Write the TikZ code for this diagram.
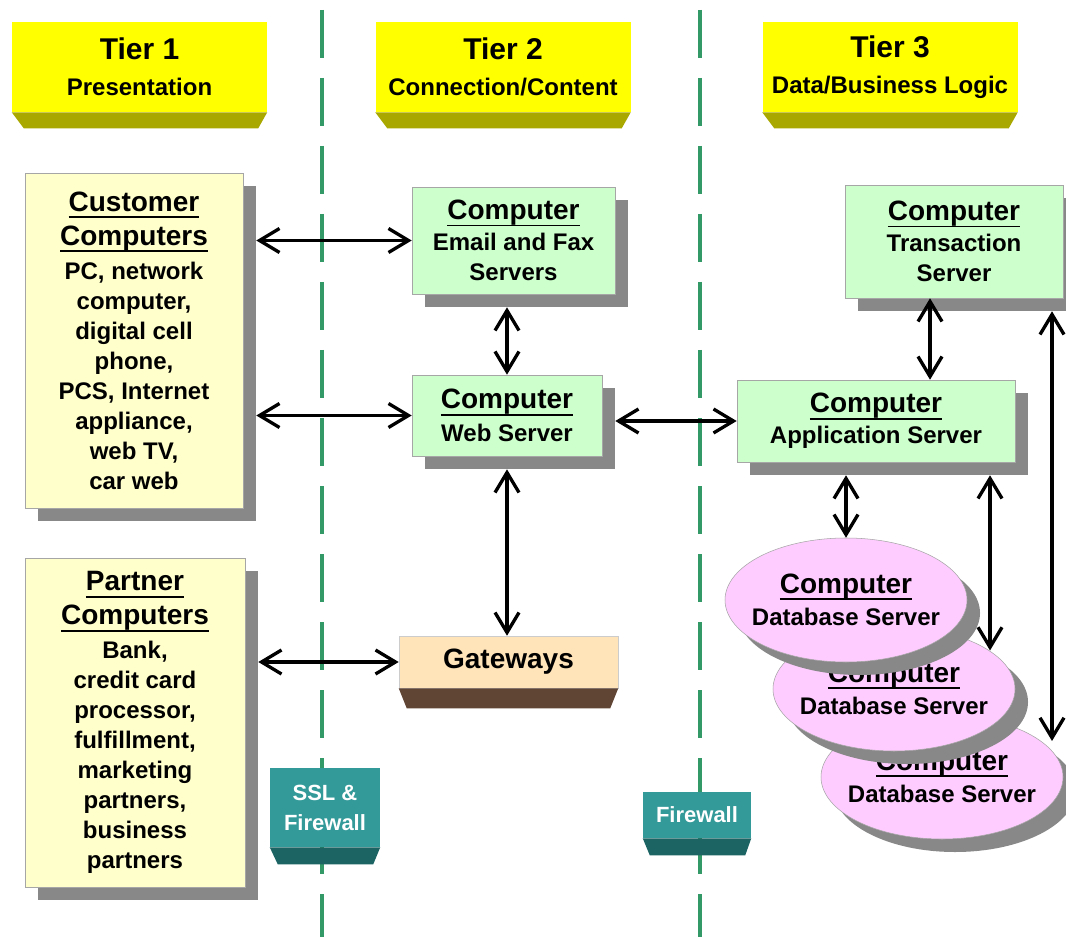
\documentclass[tikz,border=0pt]{standalone}
\usepackage{fontspec}
\setmainfont{Liberation Sans}
\usetikzlibrary{arrows.meta,shapes.geometric,shadows}

\definecolor{tierhead}{RGB}{255,255,0}
\definecolor{tierbase}{RGB}{168,168,0}
\definecolor{clientfill}{RGB}{255,255,204}
\definecolor{serverfill}{RGB}{204,255,204}
\definecolor{dbfill}{RGB}{255,204,255}
\definecolor{gwfill}{RGB}{255,228,185}
\definecolor{gwbase}{RGB}{96,68,52}
\definecolor{wallfill}{RGB}{51,153,153}
\definecolor{wallbase}{RGB}{28,100,100}
\definecolor{zoneline}{RGB}{51,153,102}
\definecolor{shade}{RGB}{136,136,136}

% underlined box title
\newcommand\boxtitle[1]{\setbox0\hbox{\fontsize{21}{25}\selectfont #1}\leavevmode\rlap{\rule[-5.2pt]{\wd0}{1.4pt}}\box0}

\tikzset{
  bodyfont/.style={font=\bfseries\fontsize{18}{22.5}\selectfont},
  tierbox/.style={fill=tierhead, minimum width=191.25pt, minimum height=67.5pt,
    inner sep=0pt, align=center, bodyfont},
  panel/.style={draw=black!35, line width=0.4pt, inner sep=0pt, align=center, bodyfont,
    drop shadow={shadow xshift=9.75pt, shadow yshift=-9.75pt, fill=shade, opacity=1}},
  client/.style={panel, fill=clientfill},
  server/.style={panel, fill=serverfill},
  dbnode/.style={ellipse, draw=black!35, line width=0.4pt, fill=dbfill,
    minimum width=181.5pt, minimum height=93pt, inner sep=0pt,
    drop shadow={shadow xshift=9.75pt, shadow yshift=-9.75pt, fill=shade, opacity=1}},
  dbtext/.style={align=center, inner sep=0pt, bodyfont},
  gateway/.style={draw=black!20, line width=0.4pt, fill=gwfill, inner sep=0pt, bodyfont},
  wall/.style={fill=wallfill, text=white, align=center, inner sep=0pt,
    font=\bfseries\fontsize{16.5}{22.5}\selectfont},
  zone/.style={zoneline, line width=3pt, dash pattern=on 36pt off 15pt},
  link/.style={{Straight Barb[length=15pt,width=18pt]}-{Straight Barb[length=15pt,width=18pt]},
    line width=2.5pt, black},
}

\begin{document}
\begin{tikzpicture}[x=0.75pt, y=-0.75pt]
\useasboundingbox[fill=white] (0,0) rectangle (1066,937);

% zone separators
\draw[zone] (322,10) -- (322,937);
\draw[zone] (700,10) -- (700,937);

% tier headings
\node[tierbox] (t1) at (139.5,67) {{\fontsize{22.5}{27}\selectfont Tier 1}\\[4.5pt] Presentation};
\node[tierbox] (t2) at (503,67) {{\fontsize{22.5}{27}\selectfont Tier 2}\\[4.5pt] Connection/Content};
\node[tierbox] (t3) at (890,67) {{\fontsize{22.5}{27}\selectfont Tier 3}\\[4.5pt] Data/Business Logic};
\foreach \t in {t1,t2,t3}
  \fill[tierbase] (\t.south west) -- (\t.south east) -- ([shift={(-9,16)}]\t.south east)
    -- ([shift={(12,16)}]\t.south west) -- cycle;

% tier 1 clients
\node[client, minimum width=163.5pt, minimum height=251.25pt] (cust) at (134,340.5)
  {\boxtitle{Customer}\\[3pt] \boxtitle{Computers}\\[3pt] PC, network\\ computer,\\ digital cell\\
   phone,\\ PCS, Internet\\ appliance,\\ web TV,\\ car web};
\node[client, minimum width=165pt, minimum height=246.75pt] (partner) at (135,722.5)
  {\boxtitle{Partner}\\[3pt] \boxtitle{Computers}\\[3pt] Bank,\\ credit card\\ processor,\\
   fulfillment,\\ marketing\\ partners,\\ business\\ partners};

% tier 2 servers
\node[server, minimum width=152.25pt, minimum height=80.25pt] (email) at (513.5,240.5)
  {\boxtitle{Computer}\\[1pt] Email and Fax\\ Servers};
\node[server, minimum width=142.5pt, minimum height=60.75pt] (web) at (507,415.5)
  {\boxtitle{Computer}\\[2pt] Web Server};
\node[gateway, minimum width=164.25pt, minimum height=39pt] (gw) at (508.5,662)
  {\fontsize{21}{25}\selectfont Gateways};
\fill[gwbase] (gw.south west) -- (gw.south east) -- ([shift={(-8,20)}]gw.south east)
  -- ([shift={(8,20)}]gw.south west) -- cycle;

% tier 3 servers
\node[server, minimum width=163.5pt, minimum height=84.75pt] (trans) at (954,241.5)
  {\boxtitle{Computer}\\[1pt] Transaction\\ Server};
\node[server, minimum width=208.5pt, minimum height=61.5pt] (app) at (876,421)
  {\boxtitle{Computer}\\[1pt] Application Server};

% stacked database servers, back to front
\node[dbnode, label={[dbtext]center:{\boxtitle{Computer}\\[2pt] Database Server}}] (db3) at (942,777) {};
\node[dbnode, label={[dbtext]center:{\boxtitle{Computer}\\[2pt] Database Server}}] (db2) at (894,689) {};
\node[dbnode, label={[dbtext]center:{\boxtitle{Computer}\\[2pt] Database Server}}] (db1) at (846,600) {};

% firewalls
\node[wall, minimum width=82.5pt, minimum height=59.25pt] (ssl) at (325,807.5) {SSL \&\\ Firewall};
\fill[wallbase] (ssl.south west) -- (ssl.south east) -- ([shift={(-7,17)}]ssl.south east)
  -- ([shift={(8,17)}]ssl.south west) -- cycle;
\node[wall, minimum width=81pt, minimum height=34.5pt] (fw) at (697,815) {Firewall};
\fill[wallbase] (fw.south west) -- (fw.south east) -- ([shift={(-6,17)}]fw.south east)
  -- ([shift={(7,17)}]fw.south west) -- cycle;

% shadow edges used as arrow ends
\coordinate (custR) at ([shift={(13,0)}]cust.east);
\coordinate (partnerR) at ([shift={(13,0)}]partner.east);
\coordinate (webR) at ([shift={(13,0)}]web.east);
\coordinate (emailB) at ([shift={(0,13)}]email.south);
\coordinate (webB) at ([shift={(0,13)}]web.south);
\coordinate (appB) at ([shift={(0,13)}]app.south);
\coordinate (transB) at ([shift={(0,13)}]trans.south);
\coordinate (ta) at ([shift={(-24,0)}]trans.south);
\coordinate (ad) at ([shift={(114,0)}]appB);
\coordinate (td) at ([shift={(98,0)}]transB);

% connections
\draw[link] (custR |- email.west) -- (email.west);
\draw[link] (custR |- web.west) -- (web.west);
\draw[link] (emailB -| web.north) -- (web.north);
\draw[link] (webB) -- (webB |- gw.north);
\draw[link] (partnerR |- gw.west) -- (gw.west);
\draw[link] (webR |- app.west) -- (app.west);
\draw[link] (ta) -- (ta |- app.north);
\draw[link] (appB -| db1.north) -- (db1.north);
\draw[link] (ad) -- (ad |- db2.22);
\draw[link] (td) -- (td |- db3.20);
\end{tikzpicture}
\end{document}
